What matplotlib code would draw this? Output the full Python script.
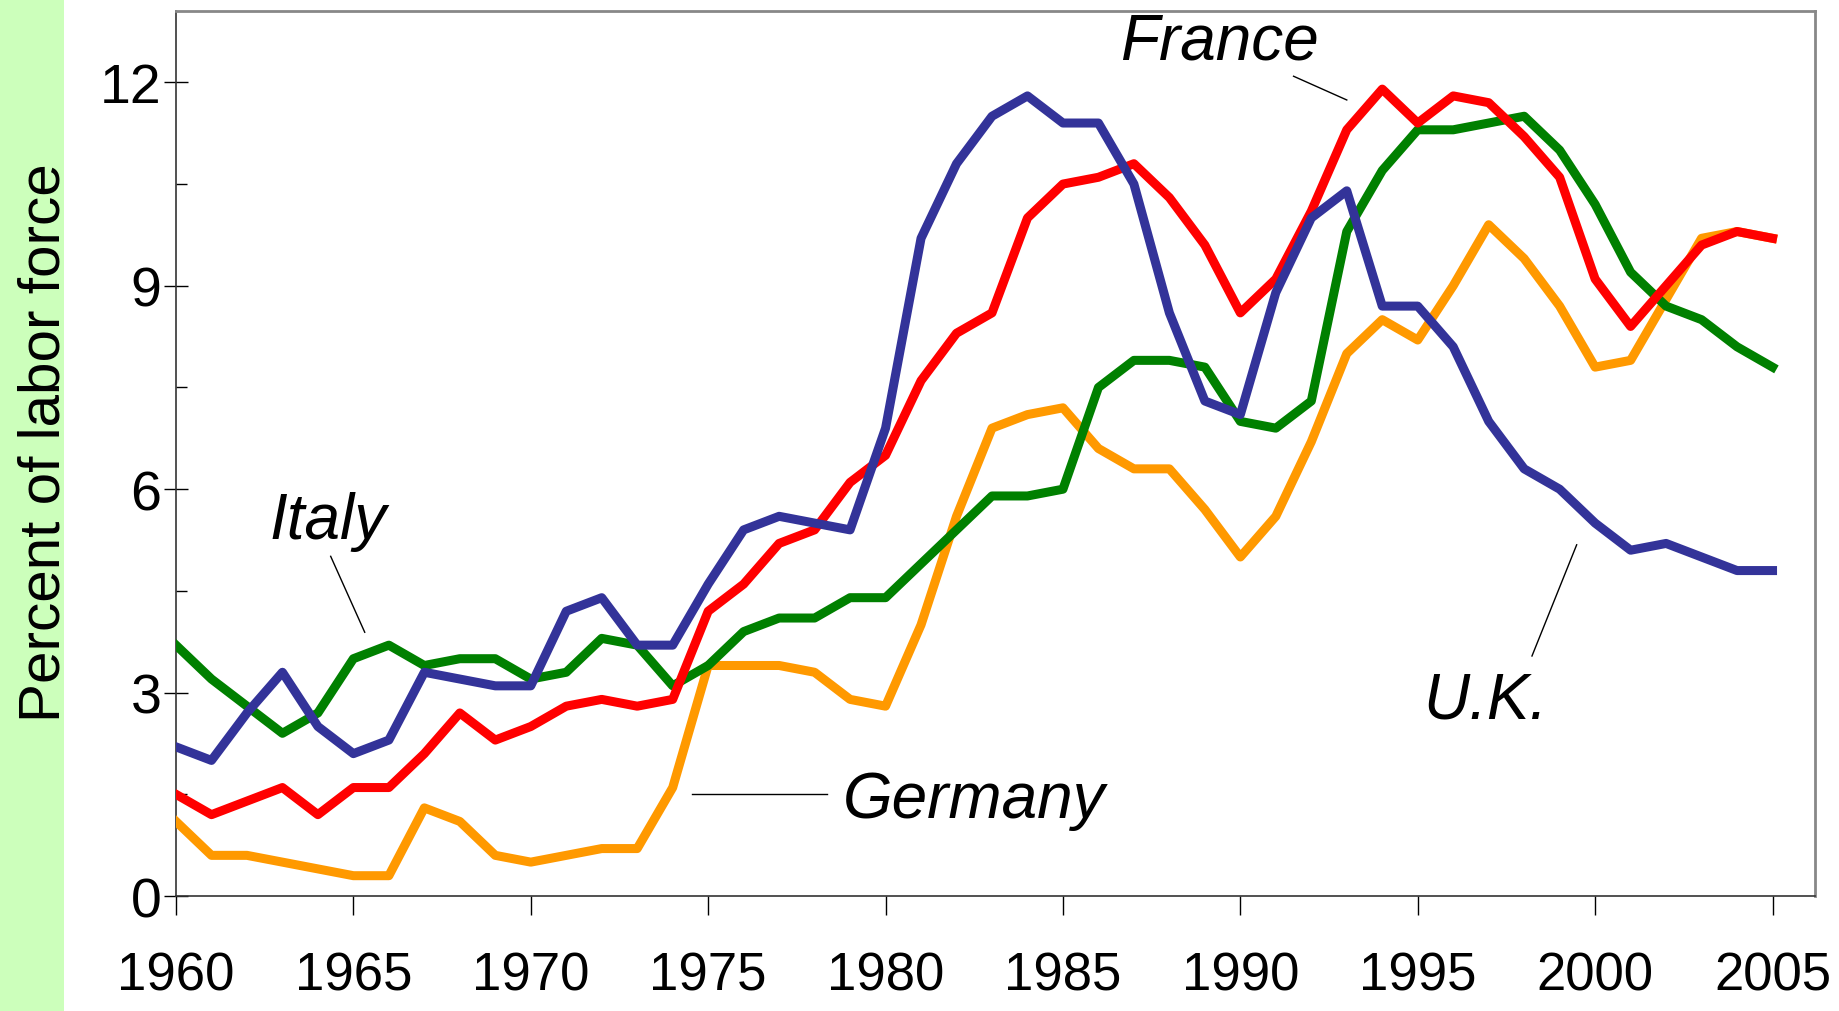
import matplotlib
matplotlib.use("Agg")
import matplotlib.pyplot as plt
from matplotlib.patches import Rectangle
from matplotlib.ticker import MultipleLocator

plt.rcParams['font.family'] = ['Liberation Sans', 'DejaVu Sans']

years = list(range(1960, 2006))

france = [1.5, 1.2, 1.4, 1.6, 1.2, 1.6, 1.6, 2.1, 2.7, 2.3,
          2.5, 2.8, 2.9, 2.8, 2.9, 4.2, 4.6, 5.2, 5.4, 6.1,
          6.5, 7.6, 8.3, 8.6, 10.0, 10.5, 10.6, 10.8, 10.3, 9.6,
          8.6, 9.1, 10.1, 11.3, 11.9, 11.4, 11.8, 11.7, 11.2, 10.6,
          9.1, 8.4, 9.0, 9.6, 9.8, 9.7]

uk = [2.2, 2.0, 2.7, 3.3, 2.5, 2.1, 2.3, 3.3, 3.2, 3.1,
      3.1, 4.2, 4.4, 3.7, 3.7, 4.6, 5.4, 5.6, 5.5, 5.4,
      6.9, 9.7, 10.8, 11.5, 11.8, 11.4, 11.4, 10.5, 8.6, 7.3,
      7.1, 8.9, 10.0, 10.4, 8.7, 8.7, 8.1, 7.0, 6.3, 6.0,
      5.5, 5.1, 5.2, 5.0, 4.8, 4.8]

italy = [3.7, 3.2, 2.8, 2.4, 2.7, 3.5, 3.7, 3.4, 3.5, 3.5,
         3.2, 3.3, 3.8, 3.7, 3.1, 3.4, 3.9, 4.1, 4.1, 4.4,
         4.4, 4.9, 5.4, 5.9, 5.9, 6.0, 7.5, 7.9, 7.9, 7.8,
         7.0, 6.9, 7.3, 9.8, 10.7, 11.3, 11.3, 11.4, 11.5, 11.0,
         10.2, 9.2, 8.7, 8.5, 8.1, 7.8]

germany = [1.1, 0.6, 0.6, 0.5, 0.4, 0.3, 0.3, 1.3, 1.1, 0.6,
           0.5, 0.6, 0.7, 0.7, 1.6, 3.4, 3.4, 3.4, 3.3, 2.9,
           2.8, 4.0, 5.6, 6.9, 7.1, 7.2, 6.6, 6.3, 6.3, 5.7,
           5.0, 5.6, 6.7, 8.0, 8.5, 8.2, 9.0, 9.9, 9.4, 8.7,
           7.8, 7.9, 8.8, 9.7, 9.8, 9.7]

fig = plt.figure(figsize=(18.39, 10.12), dpi=100)
fig.patches.append(Rectangle((0, 0), 0.035, 1, transform=fig.transFigure,
                             facecolor='#ccffbb', edgecolor='none', zorder=-5))
ax = fig.add_axes([0.0957, 0.1136, 0.8913, 0.8744])

lw = 6.5
ax.plot(years, germany, color='#ff9900', lw=lw, solid_joinstyle='round', zorder=3)
ax.plot(years, italy, color='#008000', lw=lw, solid_joinstyle='round', zorder=4)
ax.plot(years, france, color='#ff0000', lw=lw, solid_joinstyle='round', zorder=5)
ax.plot(years, uk, color='#333399', lw=lw, solid_joinstyle='round', zorder=6)

ax.set_xlim(1960, 2006.2)
ax.set_ylim(0, 13.05)
ax.set_xticks(range(1960, 2006, 5))
ax.yaxis.set_major_locator(MultipleLocator(3))
ax.yaxis.set_minor_locator(MultipleLocator(1.5))
ax.tick_params(axis='x', direction='out', length=14, width=1, labelsize=38, pad=25)
ax.tick_params(axis='y', which='major', direction='inout', length=17, width=1,
               labelsize=40, pad=2)
ax.tick_params(axis='y', which='minor', direction='in', length=8, width=1)

for s in ['top', 'right']:
    ax.spines[s].set_color('#888888')
    ax.spines[s].set_linewidth(2)
for s in ['left', 'bottom']:
    ax.spines[s].set_color('#333333')
    ax.spines[s].set_linewidth(1.2)

ax.set_ylabel('Percent of labor force', fontsize=42)
ax.yaxis.set_label_coords(-0.064, 0.513)

# labels with leader lines
lab = dict(fontsize=46, style='italic', color='black')
ax.text(1989.4, 12.6, 'France', ha='center', va='center', **lab)
ax.plot([1991.5, 1993.0], [12.09, 11.74], color='black', lw=1)
ax.text(1964.3, 5.53, 'Italy', ha='center', va='center', **lab)
ax.plot([1964.36, 1965.32], [5.01, 3.89], color='black', lw=1)
ax.text(1978.8, 1.42, 'Germany', ha='left', va='center', **lab)
ax.plot([1974.54, 1978.34], [1.5, 1.5], color='black', lw=1)
ax.text(1996.9, 2.88, 'U.K.', ha='center', va='center', **lab)
ax.plot([1998.22, 1999.48], [3.54, 5.18], color='black', lw=1)

fig.savefig('out.png', dpi=100)
